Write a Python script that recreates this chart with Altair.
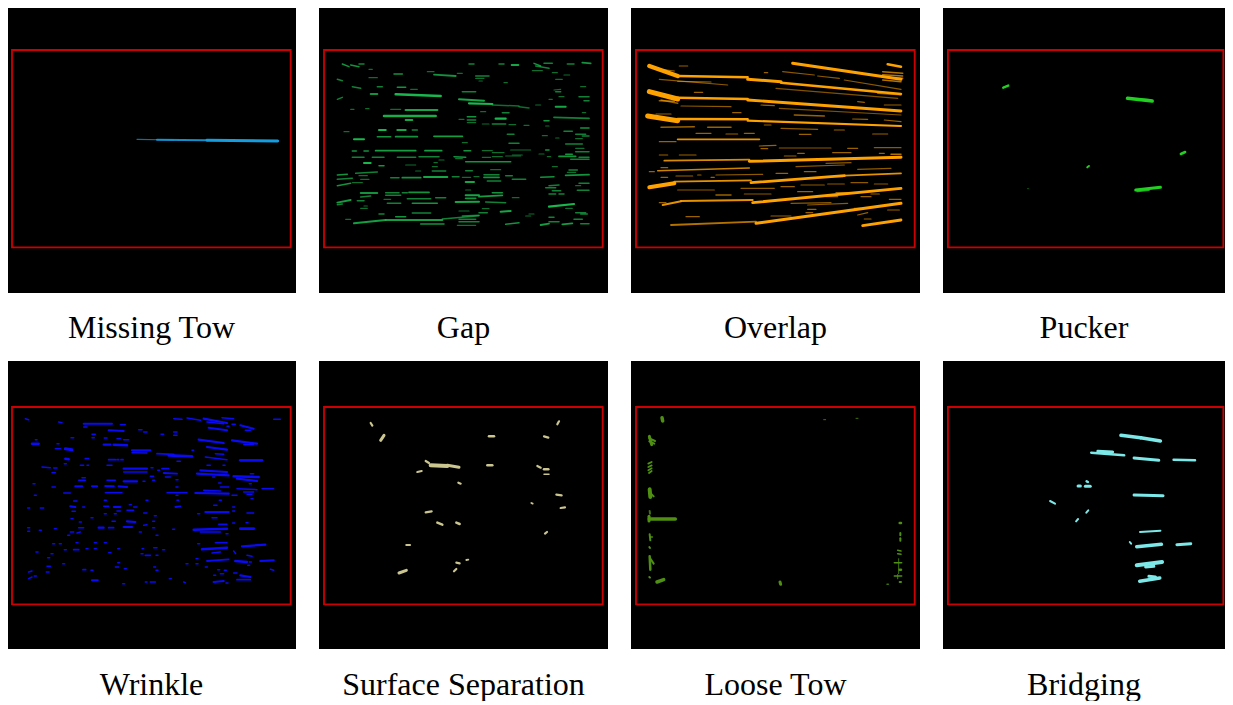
import altair as alt
import pandas as pd

# Defect-map panels. Coordinates are image pixels of each photo (3x sampled grid):
# x in [0, 867], y in [-105, 759] (row 1) / [-108, 756] (row 2), y grows downward.
NAMES = ["Missing Tow", "Gap", "Overlap", "Pucker",
         "Wrinkle", "Surface Separation", "Loose Tow", "Bridging"]
COLORS = ["#129ee0", "#19b84e", "#ffa200", "#22d022",
          "#0a0af5", "#cbc590", "#4f8f12", "#7de8e8"]
ROI = [15, 851, 30, 622]  # red inspection window (x1, x2, y1, y2)

# segments: (x1, x2, y1, y2, stroke width px, opacity)
MISSING_TOW = [(390, 500, 298, 300, 1.2, 0.7), (450, 600, 299, 301, 2.0, 0.9),
               (600, 812, 301, 303, 3.0, 1.0)]

GAP = [
    (70, 90, 72, 80, 1.5, .8), (95, 120, 75, 80, 1.5, .8), (120, 135, 72, 72, 1.5, .7),
    (450, 465, 72, 72, 1.5, .7), (540, 555, 72, 72, 1.5, .7), (578, 598, 75, 75, 2, .9),
    (645, 665, 70, 78, 1.5, .8), (675, 700, 70, 70, 1.5, .7), (745, 765, 72, 72, 1.5, .7),
    (790, 815, 68, 70, 1.8, .8), (650, 690, 78, 85, 1.5, .7), (150, 160, 88, 88, 1.2, .6),
    (640, 670, 92, 92, 1.2, .6), (325, 345, 95, 95, 1.2, .6), (225, 250, 102, 102, 1.5, .8),
    (415, 430, 100, 100, 1.2, .6), (700, 715, 98, 98, 1.2, .6), (735, 752, 105, 105, 1.2, .6),
    (345, 410, 104, 108, 1.8, .8), (470, 510, 108, 108, 1.5, .7), (150, 175, 113, 113, 1.2, .6),
    (470, 495, 115, 115, 1.2, .6), (55, 70, 118, 122, 1.5, .7), (710, 730, 118, 118, 1.2, .6),
    (480, 490, 123, 123, 1.2, .6), (555, 565, 128, 128, 1.2, .6), (100, 125, 140, 145, 1.5, .7),
    (175, 190, 140, 140, 1.5, .7), (235, 260, 142, 142, 1.5, .8), (785, 800, 140, 140, 1.2, .6),
    (275, 295, 148, 148, 1.2, .6), (705, 725, 150, 148, 1.2, .6), (430, 470, 155, 155, 1.5, .7),
    (710, 725, 155, 155, 1.5, .7), (155, 175, 162, 162, 2, .8), (230, 365, 163, 168, 2.5, 1),
    (780, 810, 170, 170, 1.5, .7), (720, 735, 170, 170, 1.2, .6), (55, 70, 178, 172, 1.5, .7),
    (420, 495, 178, 182, 2, .9), (690, 700, 178, 178, 1.2, .6), (795, 810, 182, 182, 1.5, .7),
    (450, 520, 190, 192, 2.2, 1), (520, 600, 195, 198, 1.5, .6), (600, 630, 200, 204, 1.5, .6),
    (650, 665, 195, 195, 1.2, .6), (710, 740, 200, 200, 2, .9), (95, 105, 208, 208, 1.2, .6),
    (140, 150, 206, 206, 1.2, .6), (215, 245, 208, 208, 1.2, .6), (260, 355, 210, 210, 2.2, .9),
    (485, 500, 215, 215, 1.2, .6), (550, 570, 218, 218, 1.5, .7), (790, 800, 218, 218, 1.2, .6),
    (195, 350, 228, 228, 2.5, .95), (445, 470, 230, 230, 1.5, .8), (705, 810, 232, 235, 1.8, .7),
    (530, 560, 236, 236, 2.2, 1), (260, 280, 240, 240, 2, .9), (420, 435, 238, 238, 1.2, .6),
    (445, 470, 240, 240, 1.5, .7), (675, 690, 242, 242, 1.5, .8), (445, 470, 248, 248, 1.2, .6),
    (490, 510, 252, 252, 1.2, .6), (520, 560, 252, 252, 1.5, .7), (570, 590, 254, 254, 1.2, .6),
    (615, 630, 256, 256, 1.2, .6), (680, 690, 258, 258, 1.2, .6), (785, 810, 264, 264, 1.5, .8),
    (180, 200, 270, 270, 2.2, 1), (235, 260, 270, 270, 2, .9), (280, 295, 270, 270, 1.5, .7),
    (735, 760, 274, 274, 1.5, .7), (75, 90, 275, 275, 1.2, .6), (565, 585, 283, 283, 1.5, .7),
    (770, 800, 283, 283, 1.5, .7), (175, 215, 290, 290, 1.5, .8), (230, 295, 290, 290, 1.8, .8),
    (345, 430, 289, 289, 1.8, .85), (670, 685, 287, 287, 1.2, .6), (790, 810, 288, 288, 1.5, .7),
    (710, 720, 294, 294, 1.2, .6), (770, 790, 296, 296, 1.2, .6), (105, 135, 298, 298, 2, 1),
    (430, 445, 308, 308, 1.2, .6), (570, 600, 310, 310, 1.5, .7), (740, 790, 312, 312, 1.5, .7),
    (770, 795, 325, 325, 1.2, .6), (575, 635, 330, 330, 1.2, .6), (100, 112, 333, 333, 1.5, .8),
    (135, 148, 333, 333, 1.5, .8), (170, 290, 332, 332, 1.8, .85), (318, 368, 332, 332, 1.8, .85),
    (435, 455, 332, 332, 1.5, .8), (490, 520, 332, 332, 1.2, .6), (680, 690, 330, 330, 1.5, .8),
    (770, 810, 335, 335, 1.5, .7), (520, 555, 338, 338, 1.2, .6), (660, 675, 342, 342, 1.2, .6),
    (580, 610, 345, 345, 1.2, .6), (740, 760, 343, 343, 1.5, .8), (100, 135, 352, 352, 1.5, .7),
    (160, 195, 352, 352, 1.5, .7), (235, 290, 352, 352, 1.5, .7), (300, 360, 350, 350, 1.5, .7),
    (405, 440, 350, 352, 1.5, .8), (490, 515, 352, 352, 1.2, .6), (520, 550, 350, 350, 1.2, .6),
    (560, 605, 348, 348, 1.2, .6), (685, 695, 350, 350, 1.2, .6), (720, 770, 349, 349, 1.8, .8),
    (780, 810, 352, 352, 1.5, .7), (410, 430, 356, 356, 1.2, .6), (755, 810, 358, 358, 1.5, .7),
    (360, 375, 360, 360, 1.2, .6), (440, 575, 365, 365, 1.5, .8), (135, 155, 369, 369, 2, 1),
    (345, 355, 368, 368, 1.2, .6), (260, 290, 375, 375, 1.2, .6), (180, 195, 377, 377, 1.5, .8),
    (340, 355, 380, 380, 1.2, .6), (700, 715, 380, 380, 1.2, .6), (750, 775, 390, 390, 1.5, .7),
    (290, 305, 393, 393, 1.2, .6), (340, 380, 393, 393, 1.5, .7), (440, 460, 392, 392, 1.5, .7),
    (515, 545, 389, 389, 1.2, .6), (110, 175, 400, 396, 1.5, .7), (745, 770, 397, 397, 1.2, .6),
    (55, 85, 405, 403, 1.5, .8), (495, 540, 404, 404, 1.5, .7), (120, 145, 407, 407, 1.2, .6),
    (560, 580, 407, 407, 1.5, .7), (740, 810, 406, 404, 1.8, .8), (215, 240, 413, 413, 1.5, .7),
    (250, 305, 413, 413, 1.8, .8), (315, 385, 411, 411, 2, .9), (400, 420, 410, 410, 1.5, .7),
    (430, 455, 412, 412, 1.2, .6), (465, 480, 410, 410, 1.2, .6), (495, 540, 412, 412, 1.8, .8),
    (580, 620, 418, 418, 1.5, .7), (665, 705, 412, 410, 1.5, .8), (55, 100, 418, 415, 1.5, .7),
    (125, 150, 418, 418, 1.2, .6), (505, 545, 423, 423, 1.5, .7), (440, 465, 426, 426, 2, .9),
    (55, 95, 437, 430, 1.5, .8), (100, 130, 428, 428, 1.2, .6), (780, 810, 430, 430, 1.5, .7),
    (690, 720, 437, 435, 1.5, .7), (770, 785, 437, 437, 1.2, .6), (680, 710, 443, 443, 1.5, .7),
    (440, 455, 450, 450, 1.2, .6), (700, 725, 452, 452, 1.5, .7), (775, 810, 451, 451, 1.5, .7),
    (125, 175, 459, 459, 1.8, .8), (200, 240, 458, 458, 1.5, .7), (250, 265, 458, 458, 1.5, .7),
    (270, 330, 457, 457, 1.8, .8), (520, 550, 458, 458, 1.5, .8), (690, 710, 462, 462, 1.5, .7),
    (720, 735, 462, 462, 1.5, .7), (200, 245, 466, 466, 1.5, .7), (440, 480, 466, 466, 2, .9),
    (125, 155, 471, 468, 1.5, .7), (480, 550, 470, 466, 1.8, .85), (350, 380, 473, 473, 1.5, .7),
    (580, 600, 473, 473, 1.2, .6), (265, 335, 476, 476, 1.5, .7), (440, 470, 475, 475, 1.8, .8),
    (195, 215, 478, 478, 1.2, .6), (55, 95, 488, 480, 1.8, .85), (115, 135, 482, 482, 1.5, .7),
    (410, 480, 486, 485, 2, .9), (500, 560, 486, 488, 1.5, .7), (205, 245, 490, 490, 1.5, .7),
    (280, 355, 490, 490, 1.5, .8), (55, 70, 494, 492, 1.5, .7), (690, 765, 500, 492, 2.2, 1),
    (135, 145, 498, 498, 1.2, .6), (125, 145, 505, 505, 1.2, .6), (490, 510, 506, 506, 1.2, .6),
    (740, 760, 505, 505, 1.2, .6), (420, 450, 513, 513, 1.2, .6), (545, 575, 515, 513, 2, .9),
    (280, 335, 519, 519, 1.5, .7), (480, 505, 518, 518, 1.5, .7), (770, 800, 518, 518, 1.5, .7),
    (180, 195, 522, 522, 1.5, .7), (630, 645, 522, 522, 1.2, .6), (785, 805, 522, 522, 1.5, .7),
    (230, 260, 530, 530, 1.5, .8), (430, 480, 528, 526, 1.5, .7), (620, 635, 528, 528, 1.2, .6),
    (370, 480, 537, 527, 1.5, .7), (690, 705, 532, 532, 1.5, .7), (80, 95, 538, 538, 1.2, .6),
    (420, 470, 538, 538, 1.5, .7), (765, 790, 538, 538, 1.5, .7), (105, 200, 550, 540, 2, .85),
    (200, 370, 540, 540, 2, .85), (420, 480, 545, 545, 1.5, .7), (690, 720, 545, 545, 1.5, .7),
    (305, 375, 552, 552, 1.5, .8), (560, 600, 553, 548, 1.5, .8), (665, 690, 555, 551, 1.8, .85),
    (730, 760, 553, 550, 1.8, .85), (785, 810, 551, 551, 1.5, .7), (415, 470, 556, 556, 1.2, .6),
]

OVERLAP = [
    (55, 140, 78, 108, 4.5, 1), (140, 350, 108, 112, 2.5, 1), (350, 450, 118, 125, 3, 1),
    (450, 810, 128, 162, 2.5, 1), (485, 810, 70, 118, 3, 1), (770, 810, 73, 80, 2.5, 1),
    (55, 140, 155, 177, 5, 1), (140, 350, 173, 177, 2.5, 1), (350, 810, 180, 213, 2.8, 1),
    (50, 140, 228, 242, 5, 1), (140, 350, 237, 238, 2.5, 1), (350, 810, 242, 258, 2.2, 1),
    (140, 385, 298, 298, 1.8, .9), (100, 355, 362, 359, 1.8, .85), (355, 810, 364, 352, 3, 1),
    (80, 355, 392, 384, 1.5, .8), (55, 130, 442, 430, 4, 1), (130, 360, 425, 421, 1.8, .9),
    (360, 640, 428, 407, 2.8, 1), (640, 810, 407, 400, 1.8, .9), (95, 150, 495, 484, 2, .9),
    (150, 365, 483, 480, 2, .9), (365, 810, 488, 445, 2.8, 1), (120, 375, 555, 545, 1.8, .7),
    (375, 810, 550, 490, 3, 1), (695, 810, 557, 540, 2.8, 1),
    (90, 130, 88, 93, 1.2, .6), (145, 170, 78, 78, 1.2, .6), (400, 410, 98, 98, 1.2, .6),
    (455, 550, 95, 105, 1.2, .55), (560, 625, 108, 115, 1.2, .55), (640, 810, 120, 148, 1.2, .55),
    (85, 290, 118, 135, 1.2, .55), (140, 240, 124, 126, 1.2, .6), (435, 800, 145, 175, 1.2, .5),
    (190, 215, 157, 157, 1.2, .6), (90, 140, 180, 190, 1.5, .6), (150, 300, 198, 200, 1.2, .55),
    (390, 430, 195, 197, 1.2, .6), (445, 810, 205, 225, 1.2, .5), (680, 700, 185, 187, 1.2, .6),
    (760, 810, 195, 195, 1.2, .6), (305, 330, 218, 218, 1.2, .6), (490, 580, 225, 228, 1.5, .6),
    (665, 710, 237, 238, 1.2, .6), (90, 190, 262, 260, 1.5, .6), (230, 300, 262, 262, 1.5, .6),
    (400, 420, 255, 255, 1.2, .6), (450, 560, 265, 268, 1.2, .55), (610, 640, 270, 270, 1.2, .6),
    (195, 240, 280, 280, 1.2, .6), (285, 320, 282, 282, 1.2, .6), (340, 370, 280, 280, 1.2, .6),
    (505, 540, 283, 283, 1.2, .6), (725, 770, 282, 282, 1.2, .6), (85, 135, 305, 305, 1.2, .6),
    (385, 435, 318, 316, 1.2, .6), (445, 600, 324, 324, 1.2, .55), (650, 680, 325, 325, 1.2, .6),
    (730, 810, 323, 323, 1.2, .55), (390, 410, 326, 326, 1.2, .6), (460, 495, 348, 348, 1.2, .6),
    (500, 520, 340, 340, 1.2, .6), (605, 660, 338, 338, 1.2, .6), (745, 760, 340, 340, 1.2, .6),
    (85, 110, 345, 345, 1.2, .6), (145, 195, 345, 345, 1.2, .6), (90, 110, 383, 383, 1.2, .6),
    (495, 640, 380, 375, 1.2, .55), (585, 660, 370, 368, 1.2, .55), (680, 780, 388, 385, 1.2, .55),
    (55, 70, 395, 395, 1.2, .6), (135, 185, 408, 408, 1.2, .6), (200, 210, 405, 405, 1.2, .6),
    (240, 250, 412, 412, 1.2, .6), (255, 395, 405, 403, 1.2, .55), (435, 470, 400, 400, 1.2, .6),
    (520, 555, 395, 395, 1.2, .6), (600, 635, 410, 410, 1.2, .6), (90, 110, 412, 412, 1.2, .6),
    (450, 490, 440, 440, 1.2, .6), (510, 580, 435, 435, 1.2, .55), (590, 640, 432, 432, 1.2, .55),
    (660, 710, 428, 428, 1.2, .55), (730, 770, 432, 432, 1.2, .55), (140, 250, 450, 450, 1.2, .55),
    (330, 430, 445, 445, 1.2, .55), (500, 545, 455, 455, 1.2, .6), (615, 660, 458, 458, 1.2, .6),
    (720, 745, 462, 462, 1.2, .6), (255, 300, 465, 465, 1.5, .6), (340, 420, 462, 462, 1.2, .55),
    (585, 620, 470, 470, 1.2, .6), (690, 720, 470, 470, 1.2, .6), (480, 600, 490, 488, 1.2, .55),
    (530, 650, 495, 490, 1.2, .55), (775, 810, 478, 478, 1.2, .6), (85, 105, 488, 488, 1.2, .6),
    (530, 555, 508, 508, 1.2, .6), (525, 545, 518, 518, 1.2, .6), (670, 690, 505, 505, 1.2, .6),
    (770, 805, 510, 510, 1.2, .6), (680, 710, 525, 518, 1.2, .6), (700, 720, 537, 537, 1.2, .6),
    (165, 205, 530, 530, 1.2, .6), (420, 480, 528, 528, 1.2, .6),
    (755, 815, 95, 100, 1.5, .7), (755, 815, 104, 108, 1.5, .7), (755, 815, 112, 115, 1.5, .7),
    (755, 810, 120, 125, 1.5, .7), (740, 810, 160, 165, 1.2, .6), (760, 810, 240, 245, 1.2, .6),
    (780, 810, 343, 343, 1.5, .7), (85, 130, 182, 184, 1.5, .6), (75, 120, 222, 222, 1.2, .6),
]

PUCKER = [(183, 198, 143, 137, 2.5, 1), (560, 635, 175, 183, 3.5, 1), (590, 630, 178, 181, 2.5, .8),
          (722, 735, 342, 336, 2.5, 1), (438, 443, 382, 378, 2, 1), (585, 660, 450, 442, 3, 1),
          (590, 625, 454, 450, 2, .8), (256, 260, 446, 446, 1, .4)]

WRINKLE = [
    (55, 65, 65, 68, 1.5, 1), (500, 525, 65, 67, 1.5, 1), (540, 580, 63, 70, 1.5, 1),
    (590, 660, 65, 78, 2.2, 1), (645, 680, 62, 65, 1.5, 1), (800, 820, 67, 67, 1.5, 1),
    (155, 165, 75, 77, 1.5, 1), (230, 315, 80, 80, 2, 1), (340, 355, 83, 83, 1.5, 1),
    (600, 650, 75, 80, 1.5, 1), (675, 685, 82, 82, 1.5, 1), (700, 740, 85, 95, 2, 1),
    (230, 240, 90, 90, 1.5, 1), (605, 660, 92, 100, 2, 1), (660, 666, 88, 88, 1.5, 1),
    (715, 730, 100, 100, 1.5, 1), (305, 350, 100, 102, 2, 1), (395, 405, 98, 98, 1.5, 1),
    (410, 420, 105, 105, 1.5, 1), (500, 510, 105, 105, 1.5, 1), (255, 265, 112, 112, 1.5, 1),
    (462, 470, 112, 112, 1.5, 1), (500, 510, 115, 115, 1.5, 1), (192, 200, 122, 122, 1.5, 1),
    (255, 262, 122, 122, 1.5, 1), (292, 300, 123, 123, 1.5, 1), (330, 340, 125, 125, 1.5, 1),
    (350, 365, 128, 128, 1.5, 1), (85, 90, 128, 128, 1.5, 1), (575, 650, 128, 138, 2.2, 1),
    (675, 750, 130, 140, 2.2, 1), (710, 740, 143, 143, 1.5, 1), (75, 95, 140, 140, 2.5, 1),
    (150, 156, 140, 140, 1.5, 1), (290, 310, 143, 143, 2.2, 1), (320, 360, 143, 145, 2.5, 1),
    (600, 660, 150, 158, 2.2, 1), (145, 160, 155, 155, 1.5, 1), (175, 195, 155, 158, 3, 1),
    (375, 430, 160, 160, 2.2, 1), (450, 500, 170, 172, 1.8, 1), (485, 555, 175, 178, 2.8, 1),
    (555, 560, 160, 160, 1.5, 1), (625, 650, 170, 172, 1.5, 1), (375, 420, 167, 168, 1.5, 1),
    (595, 660, 180, 188, 1.5, 1), (175, 185, 185, 187, 2.5, 1), (235, 245, 185, 185, 1.8, 1),
    (305, 325, 188, 188, 1.8, 1), (330, 335, 188, 188, 1.8, 1), (342, 348, 188, 188, 1.8, 1),
    (510, 520, 193, 193, 1.5, 1), (700, 765, 190, 190, 2.8, 1), (172, 178, 200, 200, 1.5, 1),
    (220, 230, 205, 205, 1.5, 1), (240, 245, 205, 205, 1.5, 1), (300, 315, 205, 205, 1.5, 1),
    (105, 130, 210, 212, 1.5, 1), (140, 150, 213, 213, 1.5, 1), (600, 610, 205, 205, 1.5, 1),
    (648, 654, 205, 205, 1.5, 1), (350, 420, 215, 215, 2.2, 1), (465, 485, 215, 215, 1.8, 1),
    (432, 438, 212, 212, 1.5, 1), (452, 458, 220, 220, 1.5, 1), (580, 660, 220, 225, 2.2, 1),
    (135, 145, 227, 227, 1.5, 1), (350, 420, 225, 225, 1.5, 1), (470, 510, 228, 230, 1.8, 1),
    (570, 665, 230, 235, 2.2, 1), (680, 755, 238, 240, 2.5, 1), (730, 740, 230, 230, 1.5, 1),
    (225, 235, 242, 242, 1.5, 1), (430, 440, 238, 238, 1.5, 1), (475, 490, 240, 240, 1.5, 1),
    (617, 623, 240, 240, 1.5, 1), (215, 235, 250, 250, 1.5, 1), (300, 325, 250, 250, 1.5, 1),
    (350, 390, 253, 253, 2.2, 1), (408, 414, 253, 253, 1.5, 1), (437, 443, 250, 250, 1.5, 1),
    (507, 513, 248, 248, 1.5, 1), (690, 750, 245, 252, 2.2, 1), (78, 84, 260, 260, 1.5, 1),
    (635, 642, 258, 258, 1.5, 1), (727, 733, 260, 260, 1.5, 1), (135, 145, 270, 270, 1.5, 1),
    (205, 225, 268, 268, 2.2, 1), (255, 270, 268, 268, 2.2, 1), (295, 320, 267, 268, 2.2, 1),
    (335, 360, 268, 270, 2.2, 1), (507, 513, 270, 270, 1.5, 1), (640, 665, 270, 270, 1.5, 1),
    (690, 750, 275, 278, 1.5, 1), (765, 800, 275, 275, 1.5, 1), (170, 190, 288, 288, 1.5, 1),
    (295, 345, 287, 287, 1.5, 1), (480, 540, 287, 287, 1.5, 1), (565, 665, 288, 290, 2.2, 1),
    (590, 640, 280, 282, 1.5, 1), (675, 690, 295, 295, 1.5, 1), (710, 740, 285, 285, 1.5, 1),
    (720, 735, 292, 292, 1.5, 1), (82, 88, 295, 295, 1.5, 1), (507, 513, 295, 295, 1.5, 1),
    (732, 738, 305, 305, 1.5, 1), (200, 210, 312, 312, 1.5, 1), (417, 423, 310, 310, 1.5, 1),
    (292, 298, 310, 310, 1.5, 1), (510, 515, 310, 310, 1.5, 1), (637, 643, 310, 310, 1.5, 1),
    (62, 68, 333, 333, 1.5, 1), (100, 110, 333, 333, 1.5, 1), (190, 205, 328, 330, 2.2, 1),
    (227, 233, 330, 330, 1.5, 1), (290, 305, 328, 328, 1.5, 1), (320, 340, 330, 330, 1.8, 1),
    (367, 373, 323, 323, 1.5, 1), (380, 390, 330, 330, 1.5, 1), (505, 520, 330, 328, 1.8, 1),
    (620, 630, 325, 325, 1.5, 1), (677, 683, 330, 330, 1.5, 1), (195, 205, 343, 343, 1.5, 1),
    (330, 340, 342, 342, 1.5, 1), (360, 380, 340, 340, 1.5, 1), (595, 665, 345, 345, 2.2, 1),
    (292, 298, 350, 350, 1.5, 1), (322, 328, 350, 350, 1.5, 1), (410, 420, 348, 348, 1.5, 1),
    (572, 578, 350, 350, 1.5, 1), (720, 740, 348, 348, 1.5, 1), (677, 683, 342, 342, 1.5, 1),
    (192, 198, 365, 365, 1.5, 1), (252, 258, 362, 362, 1.5, 1), (442, 448, 356, 356, 1.5, 1),
    (615, 630, 362, 362, 1.5, 1), (217, 223, 375, 375, 1.5, 1), (315, 325, 373, 373, 1.5, 1),
    (360, 385, 373, 375, 2.2, 1), (437, 443, 373, 373, 1.5, 1), (635, 660, 382, 382, 1.5, 1),
    (677, 683, 378, 378, 1.5, 1), (717, 723, 377, 377, 1.5, 1), (62, 68, 392, 392, 1.5, 1),
    (142, 148, 395, 395, 1.5, 1), (215, 230, 392, 392, 1.5, 1), (275, 290, 392, 392, 2.2, 1),
    (305, 320, 392, 392, 1.8, 1), (350, 375, 390, 390, 2.2, 1), (410, 420, 385, 383, 1.5, 1),
    (437, 443, 392, 392, 1.5, 1), (497, 503, 397, 397, 1.5, 1), (560, 660, 398, 395, 2.5, 1),
    (580, 640, 405, 405, 1.5, 1), (700, 740, 395, 395, 2.8, 1), (657, 663, 410, 410, 1.5, 1),
    (62, 68, 403, 403, 1.5, 1), (97, 103, 400, 400, 1.5, 1), (190, 200, 405, 405, 1.5, 1),
    (210, 220, 408, 405, 1.5, 1), (397, 403, 405, 405, 1.5, 1), (447, 453, 415, 415, 1.5, 1),
    (182, 188, 415, 415, 1.5, 1), (137, 143, 440, 440, 1.5, 1), (157, 163, 440, 440, 1.5, 1),
    (207, 213, 437, 437, 1.5, 1), (262, 268, 437, 437, 1.5, 1), (292, 298, 437, 437, 1.5, 1),
    (572, 578, 440, 440, 1.5, 1), (625, 660, 437, 437, 1.5, 1), (200, 215, 458, 458, 1.8, 1),
    (237, 243, 455, 455, 1.5, 1), (262, 268, 455, 455, 1.5, 1), (332, 338, 455, 455, 1.5, 1),
    (405, 410, 455, 455, 1.5, 1), (440, 450, 452, 452, 1.5, 1), (467, 473, 458, 458, 1.5, 1),
    (585, 660, 457, 452, 2.5, 1), (705, 775, 448, 443, 2.2, 1), (87, 93, 465, 465, 1.5, 1),
    (132, 138, 470, 470, 1.5, 1), (172, 178, 458, 458, 1.5, 1), (305, 312, 467, 467, 1.5, 1),
    (402, 408, 470, 470, 1.5, 1), (415, 430, 475, 475, 1.8, 1), (447, 453, 475, 475, 1.5, 1),
    (615, 640, 468, 465, 1.5, 1), (680, 686, 462, 470, 1.5, 1), (720, 735, 475, 478, 1.5, 1),
    (122, 128, 482, 482, 1.5, 1), (600, 665, 492, 487, 1.8, 1), (567, 573, 485, 485, 1.5, 1),
    (685, 720, 492, 495, 2.5, 1), (727, 733, 495, 495, 1.5, 1), (760, 800, 492, 490, 2.2, 1),
    (167, 173, 500, 500, 1.5, 1), (332, 338, 497, 497, 1.5, 1), (537, 543, 500, 500, 1.5, 1),
    (567, 573, 500, 500, 1.5, 1), (722, 728, 505, 505, 1.5, 1), (120, 130, 508, 508, 1.5, 1),
    (228, 236, 518, 518, 1.8, 1), (252, 258, 520, 520, 1.5, 1), (325, 335, 510, 510, 1.5, 1),
    (352, 358, 515, 515, 1.5, 1), (440, 446, 510, 510, 1.5, 1), (447, 453, 520, 520, 1.5, 1),
    (595, 601, 510, 510, 1.5, 1), (632, 638, 518, 518, 1.5, 1), (652, 658, 520, 520, 1.5, 1),
    (790, 800, 517, 520, 1.5, 1), (65, 75, 525, 522, 1.5, 1), (118, 126, 525, 525, 1.5, 1),
    (620, 626, 535, 535, 1.5, 1), (640, 650, 530, 530, 1.5, 1), (680, 690, 528, 528, 1.5, 1),
    (700, 730, 535, 540, 2.2, 1), (690, 730, 548, 548, 1.8, 1), (65, 75, 545, 540, 1.5, 1),
    (82, 88, 537, 537, 1.5, 1), (255, 272, 550, 550, 2.2, 1), (347, 353, 560, 560, 1.5, 1),
    (415, 420, 555, 555, 1.5, 1), (430, 445, 555, 555, 1.5, 1), (487, 493, 545, 545, 1.5, 1),
    (530, 535, 555, 557, 1.5, 1), (620, 650, 555, 552, 2.2, 1), (657, 663, 558, 558, 1.5, 1),
]

SURFACE_SEPARATION = [
    (155, 160, 78, 86, 2.2, 1), (185, 195, 130, 115, 3, 1), (715, 720, 82, 73, 2.2, 1),
    (510, 525, 118, 118, 2.5, 1), (675, 688, 118, 122, 2.2, 1), (320, 330, 192, 198, 2.2, 1),
    (335, 385, 205, 207, 4, 1), (385, 420, 205, 211, 3, 1), (295, 308, 225, 222, 2.2, 1),
    (505, 520, 205, 205, 2.5, 1), (655, 665, 207, 212, 2.2, 1), (675, 688, 217, 217, 2.5, 1),
    (675, 690, 232, 232, 1.5, 1), (418, 425, 257, 260, 2.2, 1), (712, 728, 293, 295, 2.2, 1),
    (637, 641, 318, 320, 1.8, 1), (725, 738, 333, 331, 2.2, 1), (320, 338, 346, 343, 2.2, 1),
    (355, 370, 377, 383, 2.5, 1), (412, 422, 377, 381, 2.5, 1), (678, 684, 410, 405, 2.2, 1),
    (262, 273, 444, 444, 2.2, 1), (412, 422, 497, 499, 2.2, 1), (442, 448, 489, 488, 1.8, 1),
    (405, 412, 523, 516, 2.2, 1), (240, 262, 528, 520, 3, 1),
]

LOOSE_TOW = [
    (93, 95, 62, 72, 3.5, 1), (55, 62, 118, 143, 3, 1), (55, 72, 124, 132, 2, 1),
    (55, 70, 133, 140, 2, 1), (52, 62, 200, 195, 1.8, 1), (52, 62, 210, 205, 1.8, 1),
    (52, 62, 220, 214, 1.8, 1), (54, 62, 228, 222, 1.8, 1), (56, 58, 277, 300, 4, 1),
    (60, 68, 290, 298, 2, 1), (56, 57, 342, 350, 2, .8), (54, 54, 358, 372, 3, 1),
    (55, 133, 366, 366, 3.5, 1), (56, 58, 412, 430, 2, 1), (58, 64, 420, 420, 1.5, 1),
    (55, 57, 450, 453, 2, 1), (56, 58, 478, 518, 2.5, 1), (58, 68, 485, 500, 2, 1),
    (55, 57, 540, 542, 2, 1), (78, 98, 555, 548, 3.5, 1), (447, 449, 555, 562, 3, 1),
    (578, 584, 68, 68, 1, .8), (675, 681, 64, 64, 1, .8), (806, 810, 378, 378, 2.5, 1),
    (808, 808, 408, 415, 2, 1), (808, 808, 424, 431, 2, 1), (800, 810, 460, 462, 1.5, 1),
    (800, 810, 470, 472, 1.5, 1), (790, 812, 497, 497, 1.5, 1), (806, 810, 518, 518, 2.5, 1),
    (790, 812, 537, 537, 1.5, 1), (806, 810, 555, 555, 2, 1), (768, 772, 562, 562, 1.5, .8),
    (803, 803, 485, 530, 1, .8), (800, 800, 533, 545, 1.2, .8),
]

BRIDGING = [
    (540, 600, 115, 122, 3.5, 1), (600, 660, 122, 132, 3.5, 1), (450, 550, 167, 175, 2.5, 1),
    (470, 515, 163, 165, 3, 1), (580, 655, 183, 190, 3, 1), (700, 765, 188, 190, 2.5, 1),
    (436, 440, 253, 255, 2.5, 1), (410, 417, 267, 267, 3, 1), (432, 447, 268, 268, 3, 1),
    (325, 340, 312, 320, 2, 1), (435, 441, 347, 340, 2, 1), (404, 410, 373, 366, 2, 1),
    (580, 668, 294, 296, 3, 1), (598, 660, 405, 401, 2, 1), (567, 571, 435, 440, 2, 1),
    (588, 663, 449, 442, 3.5, 1), (710, 752, 443, 440, 3, 1), (588, 665, 505, 495, 4, 1),
    (615, 640, 510, 508, 3, 1), (597, 658, 553, 543, 3.5, 1), (625, 645, 538, 540, 3, 1),
]

SEGMENTS = [MISSING_TOW, GAP, OVERLAP, PUCKER, WRINKLE, SURFACE_SEPARATION, LOOSE_TOW, BRIDGING]
Y_DOMAINS = [[-105, 759], [-108, 756]]
TITLE_OFFSET = [20, 21]
# last column is drawn a little narrower so the whole figure fits the page width
PANEL_W = [289, 289, 289, 282]
X_DOMAIN_MAX = [867, 867, 867, 856]


def panel(i):
    row, col = divmod(i, 4)
    xs = alt.Scale(domain=[0, X_DOMAIN_MAX[col]], nice=False, zero=False)
    ys = alt.Scale(domain=Y_DOMAINS[row], nice=False, zero=False, reverse=True)
    seg_df = pd.DataFrame(SEGMENTS[i], columns=["x1", "x2", "y1", "y2", "w", "o"])
    roi_df = pd.DataFrame({"x1": [ROI[0]], "x2": [ROI[1]], "y1": [ROI[2]], "y2": [ROI[3]]})
    roi = alt.Chart(roi_df).mark_rect(filled=False, stroke="#cc0000", strokeWidth=1.8).encode(
        x=alt.X("x1:Q", scale=xs, axis=None), x2="x2:Q",
        y=alt.Y("y1:Q", scale=ys, axis=None), y2="y2:Q")
    seg = alt.Chart(seg_df).mark_rule(color=COLORS[i], strokeCap="round").encode(
        x=alt.X("x1:Q", scale=xs, axis=None), x2="x2:Q",
        y=alt.Y("y1:Q", scale=ys, axis=None), y2="y2:Q",
        strokeWidth=alt.StrokeWidth("w:Q", scale=None),
        opacity=alt.Opacity("o:Q", scale=None))
    return alt.layer(roi, seg).properties(
        width=PANEL_W[col], height=288,
        title=alt.TitleParams(text=NAMES[i], orient="bottom", anchor="middle",
                              font="Liberation Serif", fontSize=32, fontWeight="normal",
                              color="black", offset=TITLE_OFFSET[row], baseline="top"))


chart = alt.concat(*[panel(i) for i in range(8)], columns=4,
                   spacing=alt.RowColnumber(row=68, column=23), bounds="flush").properties(
    padding={"left": -1, "top": -3, "right": 0, "bottom": 0}, background="white"
).resolve_scale(x="independent", y="independent").configure_view(
    fill="black", strokeWidth=0)

chart.save("out.html", embed_options={"renderer": "svg", "actions": False})
